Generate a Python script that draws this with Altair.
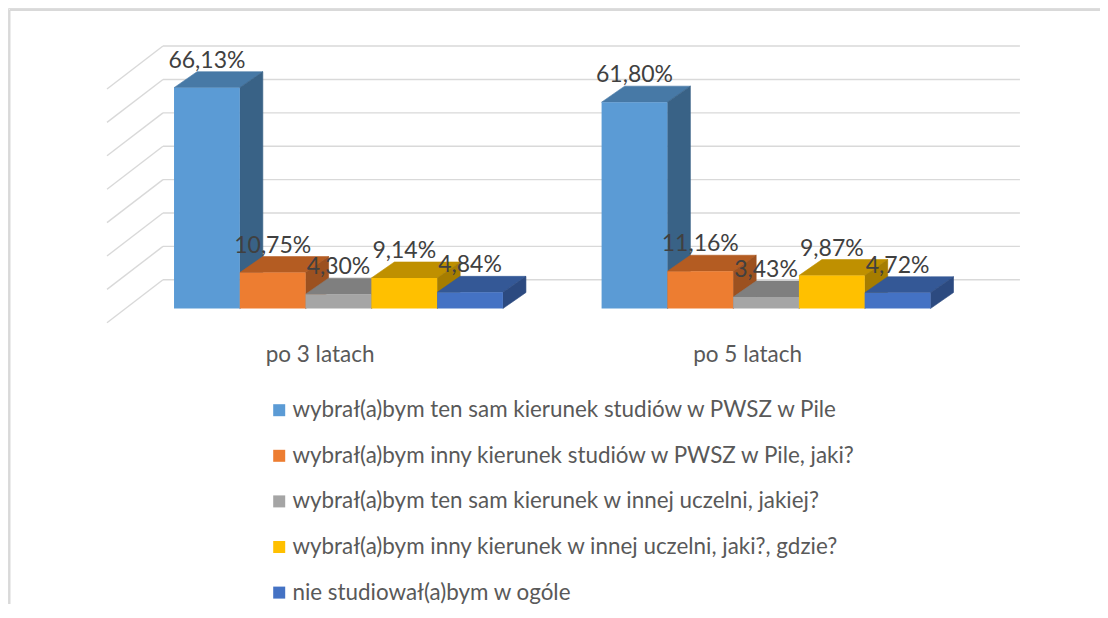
import altair as alt
import pandas as pd

# ---------------- data ----------------
categories = ["po 3 latach", "po 5 latach"]
series = [
    "wybrał(a)bym ten sam kierunek studiów w PWSZ w Pile",
    "wybrał(a)bym inny kierunek studiów w PWSZ w Pile, jaki?",
    "wybrał(a)bym ten sam kierunek w innej uczelni, jakiej?",
    "wybrał(a)bym inny kierunek w innej uczelni, jaki?, gdzie?",
    "nie studiował(a)bym w ogóle",
]
values_po3 = [66.13, 10.75, 4.30, 9.14, 4.84]
values_po5 = [61.80, 11.16, 3.43, 9.87, 4.72]
grid_ticks = [0, 10, 20, 30, 40, 50, 60, 70]

front_colors = ["#5B9BD5", "#ED7D31", "#A5A5A5", "#FFC000", "#4472C4"]
top_colors = ["#4779A6", "#B45C22", "#7F7F7F", "#BF9000", "#345896"]
side_colors = ["#396286", "#9C5120", "#6C6C6C", "#A67D00", "#2C4A80"]

# ---------------- layout constants ----------------
W, H = 1092, 596
XMIN, XMAX = -2.524, 14.077
YMIN, YMAX = -88.5, 90.0
GROUP_STEP = 6.5
BAR_W = 1.0
DX = 0.35       # depth offset (x units)
DZ = 4.79       # depth offset (value units)
WALL_Y = 8.6    # back-wall zero in value units
WALL_X0, WALL_X1 = -0.168, 12.86
DIAG_DX, DIAG_DY = -0.851, -12.87
FONT = "Lato"

xs = alt.Scale(domain=[XMIN, XMAX], nice=False, zero=False)
ys = alt.Scale(domain=[YMIN, YMAX], nice=False, zero=False)

all_values = [values_po3, values_po5]

# ---------------- grid (back wall + side wall) ----------------
grid_rows = []
for t in grid_ticks:
    y = WALL_Y + t
    grid_rows.append(dict(x=WALL_X0, x2=WALL_X1, y=y, y2=y))
    grid_rows.append(dict(x=WALL_X0, x2=WALL_X0 + DIAG_DX, y=y, y2=y + DIAG_DY))
grid = alt.Chart(pd.DataFrame(grid_rows)).mark_rule(
    color="#D9D9D9", strokeWidth=1.4
).encode(
    x=alt.X("x:Q", scale=xs, axis=None),
    x2="x2:Q",
    y=alt.Y("y:Q", scale=ys, axis=None),
    y2="y2:Q",
)

layers = [grid]

# ---------------- top & side faces, bar by bar ----------------
front_rows = []
label_rows = []
for g, vals in enumerate(all_values):
    for i, v in enumerate(vals):
        xl = g * GROUP_STEP + i * BAR_W
        xr = xl + BAR_W
        front_rows.append(dict(series=series[i], x=xl, x2=xr, y=0.0, y2=v))
        label_rows.append(dict(x=xl + BAR_W / 2, y=v + DZ,
                               label=f"{v:.2f}".replace(".", ",") + "%"))
        rows = [
            # top face
            dict(face="top", fill=top_colors[i], x=xl, lo=v, hi=v),
            dict(face="top", fill=top_colors[i], x=xl + DX, lo=v, hi=v + DZ),
            dict(face="top", fill=top_colors[i], x=xr, lo=v, hi=v + DZ),
            dict(face="top", fill=top_colors[i], x=xr + DX, lo=v + DZ, hi=v + DZ),
            # side face
            dict(face="side", fill=side_colors[i], x=xr, lo=0.0, hi=v),
            dict(face="side", fill=side_colors[i], x=xr + DX, lo=DZ, hi=v + DZ),
        ]
        layers.append(
            alt.Chart(pd.DataFrame(rows)).mark_area(opacity=1, strokeWidth=0.6).encode(
                x=alt.X("x:Q", scale=xs, axis=None),
                y=alt.Y("lo:Q", scale=ys, axis=None),
                y2="hi:Q",
                detail="face:N",
                color=alt.Color("fill:N", scale=None),
                stroke=alt.Stroke("fill:N", scale=None),
            )
        )

# ---------------- front faces (with legend) ----------------
fronts = alt.Chart(pd.DataFrame(front_rows)).mark_rect(strokeWidth=0).encode(
    x=alt.X("x:Q", scale=xs, axis=None),
    x2="x2:Q",
    y=alt.Y("y:Q", scale=ys, axis=None),
    y2="y2:Q",
    color=alt.Color(
        "series:N",
        scale=alt.Scale(domain=series, range=front_colors),
        sort=series,
        legend=alt.Legend(
            title=None,
            orient="none",
            legendX=260,
            legendY=391,
            symbolType="square",
            symbolSize=144,
            symbolStrokeWidth=0,
            labelFont=FONT,
            labelFontSize=22.4,
            labelColor="#595959",
            labelLimit=900,
            labelOffset=2,
            rowPadding=22.6,
            padding=0,
        ),
    ),
)
layers.append(fronts)

# ---------------- data labels ----------------
labels = alt.Chart(pd.DataFrame(label_rows)).mark_text(
    font=FONT, fontSize=23, color="#404040", baseline="bottom", align="center", dy=1
).encode(
    x=alt.X("x:Q", scale=xs, axis=None),
    y=alt.Y("y:Q", scale=ys, axis=None),
    text="label:N",
)
layers.append(labels)

# ---------------- category labels ----------------
cat_rows = [dict(x=g * GROUP_STEP + 2.5 * BAR_W - 0.28, y=-13.9, label=c)
            for g, c in enumerate(categories)]
cats = alt.Chart(pd.DataFrame(cat_rows)).mark_text(
    font=FONT, fontSize=22.5, color="#595959", baseline="middle", align="center"
).encode(
    x=alt.X("x:Q", scale=xs, axis=None),
    y=alt.Y("y:Q", scale=ys, axis=None),
    text="label:N",
)
layers.append(cats)

# ---------------- outer frame ----------------
frame_v = alt.Chart(pd.DataFrame({"k": [0]})).mark_rule(color="#D9D9D9", strokeWidth=2).encode(
    x=alt.value(1.5), y=alt.value(2), y2=alt.value(H))
frame_h = alt.Chart(pd.DataFrame({"k": [0]})).mark_rule(color="#D9D9D9", strokeWidth=2).encode(
    x=alt.value(1.5), x2=alt.value(W), y=alt.value(2))
layers += [frame_v, frame_h]

chart = alt.layer(*layers).properties(
    width=W, height=H,
    autosize=alt.AutoSizeParams(type="none"),
    padding=0,
).configure_view(stroke=None).configure(background="white")

chart.save("out.html", embed_options={"renderer": "svg", "actions": False})
